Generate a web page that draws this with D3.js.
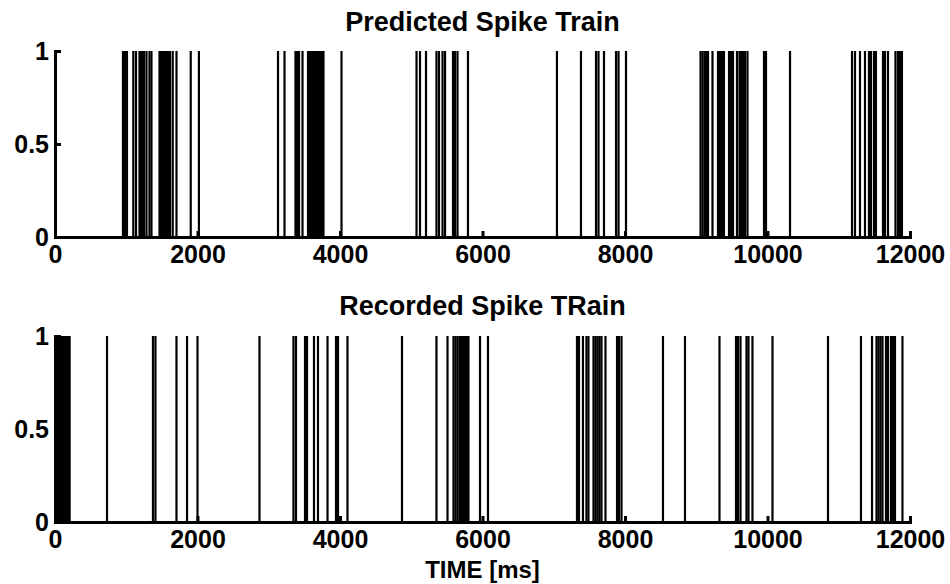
<!DOCTYPE html>
<html>
<head>
<meta charset="utf-8">
<script src="https://cdn.jsdelivr.net/npm/d3@7"></script>
<style>
  body { margin: 0; background: #fff; }
  text { font-family: "Liberation Sans", Arial, Helvetica, sans-serif; font-weight: bold; fill: #000; }
</style>
</head>
<body>
<svg id="chart" width="950" height="584"></svg>
<script>
// Spike times (ms) of the model output
const predictedSpikes = [
  954, 982, 1010, 1099, 1137, 1186, 1207, 1235, 1249, 1284, 1326, 1354,
  1467, 1488, 1509, 1530, 1551, 1572, 1593, 1614, 1652, 1705, 1905, 2020,
  3130, 3221, 3375, 3396, 3425, 3474, 3551, 3579,
  3607, 3628, 3649, 3670, 3691, 3712, 3733, 3754, 3768, 4021,
  5074, 5123, 5207, 5354, 5389, 5439, 5474, 5586, 5614, 5649, 5796,
  7045, 7382, 7593, 7628, 7705, 7874, 7909, 8014,
  9060, 9088, 9116, 9137, 9165, 9228, 9305, 9333, 9361, 9389,
  9460, 9488, 9516, 9572, 9607, 9628, 9656, 9684, 9719, 9951, 9979, 10316,
  11186, 11228, 11298, 11368, 11424, 11452, 11494, 11522, 11621, 11649, 11691,
  11796, 11831, 11859, 11887
];

// Spike times (ms) of the measured neuron
const recordedSpikes = [
  5, 25, 45, 65, 85, 105, 125, 145, 165, 185, 205,
  730, 1375, 1410, 1705, 1853, 2000, 2870,
  3347, 3382, 3509, 3537, 3635, 3691, 3825, 3944, 3972, 4105,
  4870, 5354, 5509, 5593, 5621, 5649, 5677, 5698, 5726, 5754, 5782, 5803, 5965, 6077,
  7326, 7354, 7410, 7459, 7487, 7558, 7586, 7614, 7642, 7670, 7726, 7888, 7916, 7951,
  8533, 8842, 9326, 9558, 9586, 9621, 9705, 9733, 9789, 10070, 10849,
  11312, 11467, 11530, 11558, 11586, 11614, 11663, 11691, 11733, 11761, 11789, 11894
];

const xTicks = [0, 2000, 4000, 6000, 8000, 10000, 12000];
const yTicks = [0, 0.5, 1];
const panelTitles = ["Predicted Spike Train", "Recorded Spike TRain"];
const xLabel = "TIME [ms]";

const svg = d3.select("#chart");
const left = 55, right = 910;
const panels = [
  { top: 51, bottom: 237, spikes: predictedSpikes, title: panelTitles[0], titleY: 31 },
  { top: 336, bottom: 522, spikes: recordedSpikes, title: panelTitles[1], titleY: 315 }
];

const x = d3.scaleLinear().domain([0, 12000]).range([left, right]);
const fmtY = d => (d === 0.5 ? "0.5" : String(d));

panels.forEach(p => {
  const y = d3.scaleLinear().domain([0, 1]).range([p.bottom, p.top]);
  const g = svg.append("g");

  // one vertical stroke per spike, from 0 up to 1
  g.append("g")
    .selectAll("line")
    .data(p.spikes)
    .join("line")
    .attr("x1", d => x(d)).attr("x2", d => x(d))
    .attr("y1", y(0)).attr("y2", y(1))
    .attr("stroke", "#000")
    .attr("stroke-width", 2.2);

  const xAxis = g.append("g")
    .attr("transform", `translate(0,${p.bottom})`)
    .call(d3.axisBottom(x).tickValues(xTicks).tickFormat(d3.format("d"))
      .tickSizeInner(-6).tickSizeOuter(0).tickPadding(8));

  const yAxis = g.append("g")
    .attr("transform", `translate(${left},0)`)
    .call(d3.axisLeft(y).tickValues(yTicks).tickFormat(fmtY)
      .tickSizeInner(-6).tickSizeOuter(0).tickPadding(6));

  [xAxis, yAxis].forEach(a => {
    a.select(".domain").attr("stroke", "#000").attr("stroke-width", 3).attr("stroke-linecap", "square");
    a.selectAll(".tick line").attr("stroke", "#000").attr("stroke-width", 3);
    a.selectAll(".tick text")
      .attr("fill", "#000")
      .style("font-family", '"Liberation Sans", Arial, sans-serif')
      .style("font-weight", "bold")
      .style("font-size", "25px");
  });

  svg.append("text")
    .attr("x", (left + right) / 2)
    .attr("y", p.titleY)
    .attr("text-anchor", "middle")
    .style("font-size", "27px")
    .text(p.title);
});

svg.append("text")
  .attr("x", (left + right) / 2)
  .attr("y", 578)
  .attr("text-anchor", "middle")
  .style("font-size", "24px")
  .text(xLabel);
</script>
</body>
</html>
